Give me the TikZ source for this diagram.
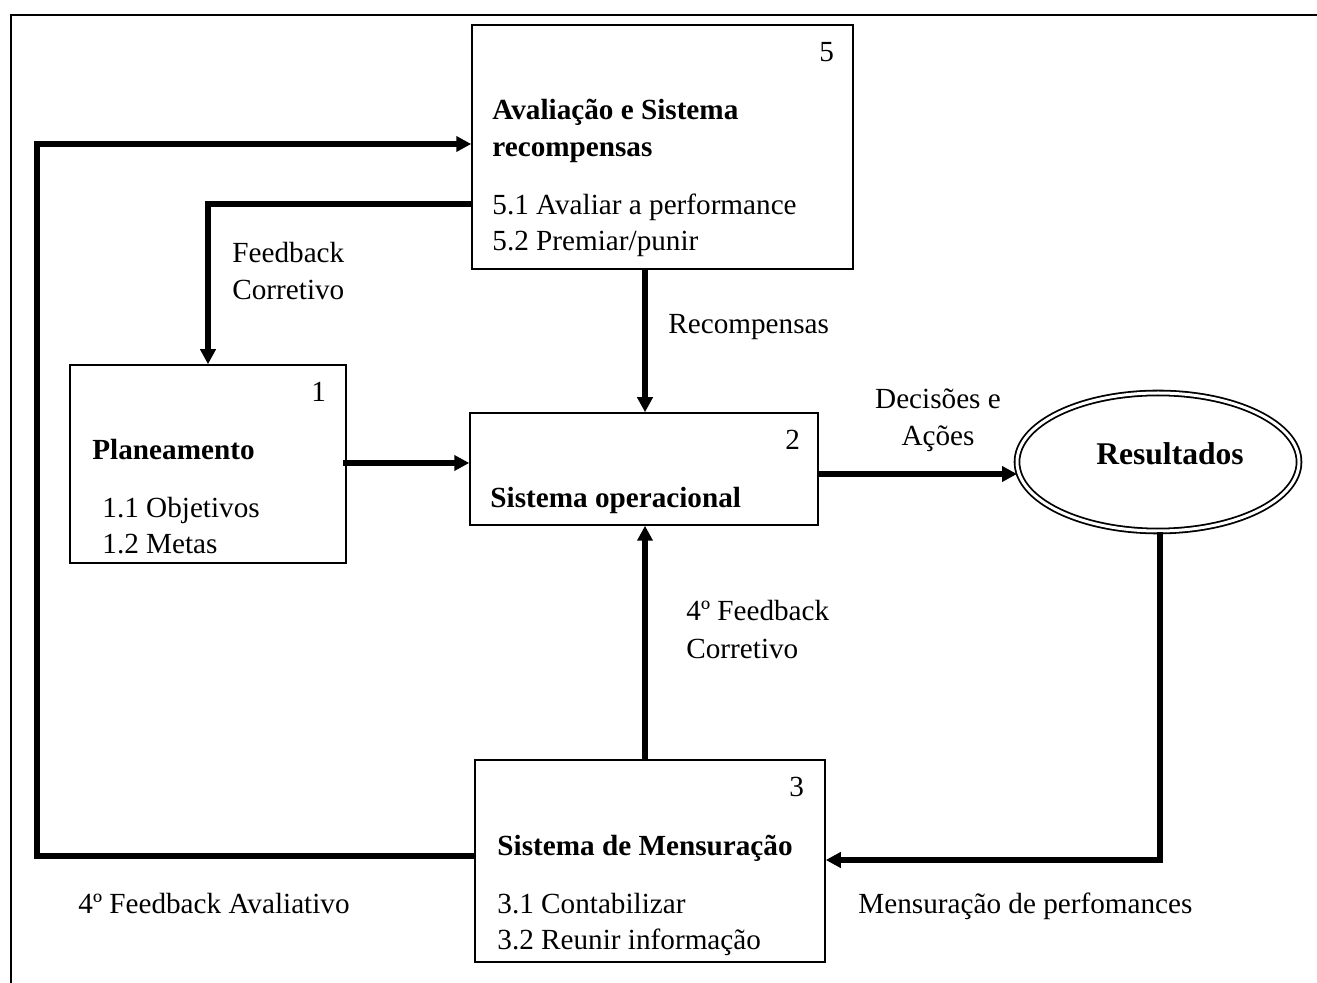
\documentclass[tikz,border=0pt]{standalone}
\usepackage{fontspec}
\setmainfont{Liberation Serif}
\usetikzlibrary{arrows.meta,shapes.geometric}
\begin{document}
\begin{tikzpicture}[x=0.5pt,y=-0.5pt,
  box/.style={draw,line width=0.75pt,rectangle,inner sep=0pt},
  arr/.style={line width=2.6pt,-{Triangle[length=7.5pt,width=7.5pt]}},
  thk/.style={line width=2.6pt},
  txt/.style={anchor=base west,inner sep=0pt,font=\fontsize{14.6}{18}\selectfont},
  btxt/.style={txt,font=\fontsize{14.6}{18}\selectfont\bfseries}]
\useasboundingbox (0,0) rectangle (1317,983);
\draw[line width=0.75pt] (11,983) -- (11,15) -- (1317,15);
% boxes
\node[box,minimum width=190.5pt,minimum height=122pt] (b5) at (662.5,147) {};
\node[box,minimum width=138pt,minimum height=99pt] (b1) at (208,464) {};
\node[box,minimum width=174pt,minimum height=56pt] (b2) at (644,469) {};
\node[box,minimum width=175pt,minimum height=101pt] (b3) at (650,861) {};
\node[draw,ellipse,line width=0.9pt,double,double distance=1.5pt,minimum width=141pt,minimum height=69pt,inner sep=0pt] (res) at (1158,462) {};
% texts in boxes
\node[txt] (n5) at (819,62) {5};
\node[btxt] (t5a) at (492,120) {Avaliação e Sistema};
\node[btxt] (t5b) at (492,157) {recompensas};
\node[txt] (t5c) at (492,215) {5.1 Avaliar a performance};
\node[txt] (t5d) at (492,251) {5.2 Premiar/punir};
\node[txt] (n1) at (311,402) {1};
\node[btxt] (t1a) at (92,460) {Planeamento};
\node[txt] (t1b) at (102,518) {1.1 Objetivos};
\node[txt] (t1c) at (102,554) {1.2 Metas};
\node[txt] (n2) at (785,450) {2};
\node[btxt] (t2a) at (490,508) {Sistema operacional};
\node[txt] (n3) at (789,796) {3};
\node[btxt] (t3a) at (497,855) {Sistema de Mensuração};
\node[txt] (t3b) at (497,913) {3.1 Contabilizar};
\node[txt] (t3c) at (497,949) {3.2 Reunir informação};
\node[btxt,anchor=base,font=\fontsize{15.8}{19}\selectfont\bfseries] (tr) at (1170,465) {Resultados};
% connector labels
\node[txt] (l1a) at (232,263) {Feedback};
\node[txt] (l1b) at (232,300) {Corretivo};
\node[txt] (l2) at (668,334) {Recompensas};
\node[txt,anchor=base] (l3a) at (938,409) {Decisões e};
\node[txt,anchor=base] (l3b) at (938,446) {Ações};
\node[txt] (l4a) at (686,621) {4º Feedback};
\node[txt] (l4b) at (686,659) {Corretivo};
\node[txt] (l5) at (78,913) {4º Feedback Avaliativo};
\node[txt] (l6) at (858,913) {Mensuração de perfomances};
% connectors
\coordinate (cL1) at (37,856);
\coordinate (cL2) at (37,144);
\draw[arr] (b3.west |- cL1) -- (cL1) -- (cL2) -- (b5.west |- cL2);
\coordinate (cF) at (208,204);
\draw[arr] (b5.west |- cF) -- (cF) -- (b1.north);
\coordinate (cP) at (343,463);
\draw[arr] (cP) -- (b2.west |- cP);
\coordinate (cV) at (645,300);
\draw[arr] (b5.south -| cV) -- (b2.north -| cV);
\draw[arr] (b3.north -| cV) -- (b2.south -| cV);
\coordinate (cD) at (820,474);
\coordinate (cE) at (1017,474);
\draw[arr] (b2.east |- cD) -- (cE);
\coordinate (cM) at (1160,860);
\draw[thk] (res.south -| cM) -- (cM);
\draw[arr] ([xshift=1.3pt]cM) -- (b3.east |- cM);
\end{tikzpicture}
\end{document}
